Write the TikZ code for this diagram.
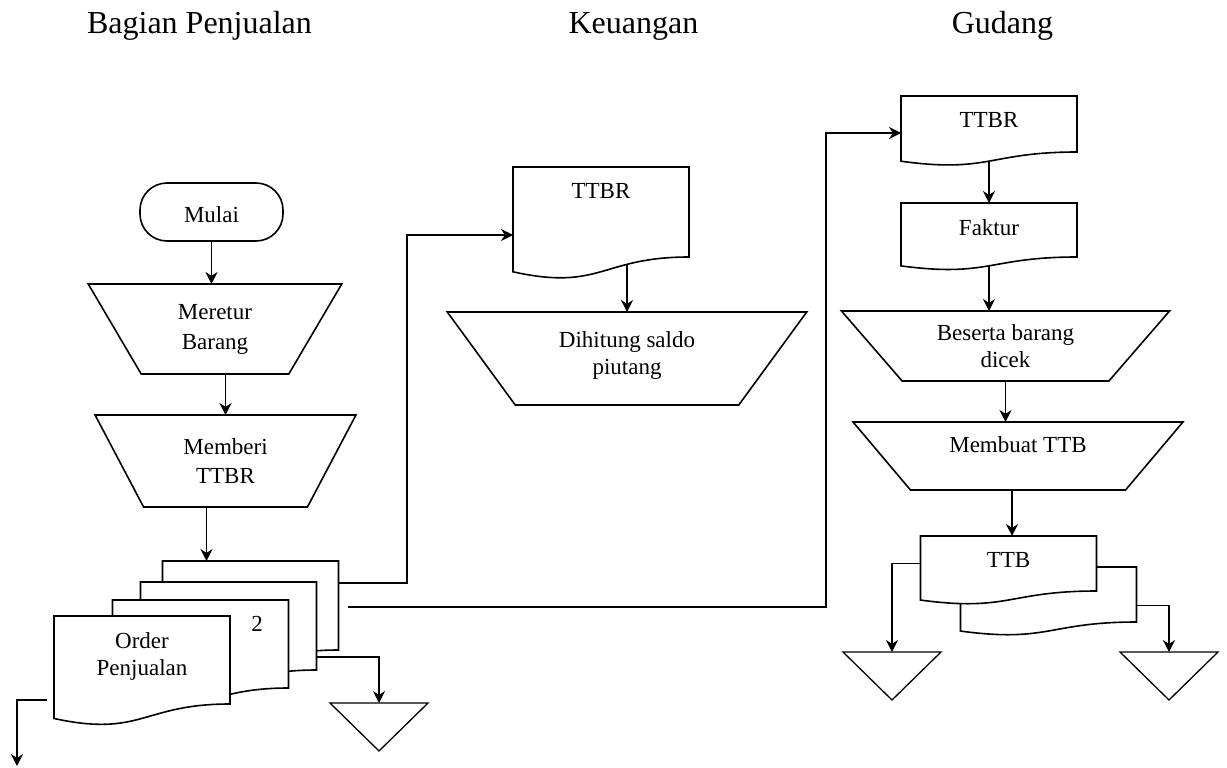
\documentclass[tikz,border=0pt]{standalone}
\usepackage{fontspec}
\setmainfont{Liberation Serif}
\usetikzlibrary{arrows.meta, shapes.geometric, calc, backgrounds}

\begin{document}
\begin{tikzpicture}[x=1pt, y=-1pt,
	font=\fontsize{23}{27}\selectfont,
	lane/.style={anchor=base, font=\fontsize{32}{38}\selectfont},
	arr/.style={line width=1.6pt, -{Stealth[length=12pt, width=12pt]}},
	doc/.style={minimum width=176pt, minimum height=#1, inner sep=0pt, outer sep=0pt},
	doctext/.style={anchor=north, yshift=-13pt, align=center},
	manual/.style={draw, line width=1.6pt, trapezium, shape border rotate=180, trapezium stretches=true,
		align=center, inner sep=0pt, outer sep=0pt}]
	\useasboundingbox (0,0) rectangle (1227,768);

	\node[lane] (t1) at (199.5,34) {Bagian Penjualan};
	\node[lane] (t2) at (633.5,34) {Keuangan};
	\node[lane] (t3) at (1002.5,34) {Gudang};

	\node[draw, line width=1.6pt, rounded corners=27pt, minimum width=143pt, minimum height=58pt, text height=22pt] (mulai) at (211.5,212) {Mulai};
	\node[manual, minimum width=254pt, minimum height=90pt, trapezium angle=62] (retur) at (215,329) {Meretur\\[3pt]Barang};
	\node[manual, minimum width=261pt, minimum height=92pt, trapezium angle=61] (beri) at (225.5,461) {Memberi\\[2pt]TTBR};
	\node[doc=89pt] (d4) at (250.5,605.5) {};
	\node[doc=88pt] (d3) at (228.5,626) {};
	\node[doc=88pt, label={[anchor=north east, xshift=-22pt, yshift=-13pt]north east:2}] (d2) at (200.5,644) {};
	\node[doc=88pt, label={[doctext]north:Order\\Penjualan}] (d1) at (142,660) {};

	\node[doc=90pt, label={[doctext]north:TTBR}] (ttbr1) at (601,212) {};
	\node[manual, minimum width=360pt, minimum height=93pt, trapezium angle=52, text depth=10pt] (hitung) at (627,358.5) {Dihitung saldo\\piutang};

	\node[doc=56pt, label={[doctext]north:TTBR}] (ttbr2) at (989,124) {};
	\node[doc=54pt, label={[doctext]north:Faktur}] (faktur) at (989,230) {};
	\node[manual, minimum width=329pt, minimum height=70pt, trapezium angle=47] (cek) at (1005.5,346) {Beserta barang\\dicek};
	\node[manual, minimum width=330pt, minimum height=68pt, trapezium angle=46, text depth=22pt] (buat) at (1018,456) {Membuat TTB};
	\node[doc=55pt] (ttb2) at (1048.5,594.5) {};
	\node[doc=55pt, label={[doctext]north:TTB}] (ttb1) at (1008.5,563.5) {};

	\coordinate (s1) at (379,703);
	\coordinate (s2) at (892,652);
	\coordinate (s3) at (1169,652);
	\coordinate (keluar) at (17,766);

	\begin{scope}[on background layer]
		\foreach \docnm in {ttbr1, ttbr2, faktur, ttb2, ttb1, d4, d3, d2, d1}
			\filldraw[fill=white, line width=1.6pt] let \p1=(\docnm.north west), \p2=(\docnm.south east), \n1={\y1-(\y2)} in
				(\p1) -- (\x2,\y1) -- (\p2) .. controls ({(\x1+\x2)/2},\y2) and ({(\x1+\x2)/2},{\y2-0.381*\n1}) .. (\x1,{\y2-0.1646*\n1}) -- cycle;
	\end{scope}

	\foreach \s in {s1, s2, s3}
		\draw[line width=1.3pt] (\s) ++(-49,0) -- ++(98,0) -- ++(-49,48) -- cycle;

	\draw[arr] (mulai) -- (mulai |- retur.north);
	\draw[arr] (retur.south -| beri.north) -- (beri.north);
	\draw[arr] ([xshift=-19pt]beri.south) -- ([xshift=-19pt]beri.south |- d4.north);
	\draw[arr] ([yshift=-22pt]d4.north east) -| ([xshift=-106pt, yshift=-23pt]ttbr1.west) -- ([yshift=-23pt]ttbr1.west);
	\draw[arr] ([xshift=9pt, yshift=-46pt]d4.north east) -| ([xshift=-75pt, yshift=-9pt]ttbr2.west) -- ([yshift=-9pt]ttbr2.west);
	\draw[arr] ([yshift=-75pt]d3.north east) -| (s1);
	\draw[arr] ([xshift=-7pt, yshift=-84pt]d1.north west) -| (keluar);

	\draw[arr] ([yshift=-7pt]ttbr1.south -| hitung.north) -- (hitung.north);

	\draw[arr] ([yshift=-9pt]ttbr2.south) -- (faktur.north);
	\draw[arr] ([yshift=-9pt]faktur.south) -- (faktur.south |- cek.north);
	\draw[arr] (cek.south) -- (cek.south |- buat.north);
	\draw[arr] ([xshift=-6pt]buat.south) -- ([xshift=-6pt]buat.south |- ttb1.north);
	\draw[arr] (ttb1.west) -| (s2);
	\draw[arr] ([yshift=-11pt]ttb2.east) -| (s3);
\end{tikzpicture}
\end{document}
